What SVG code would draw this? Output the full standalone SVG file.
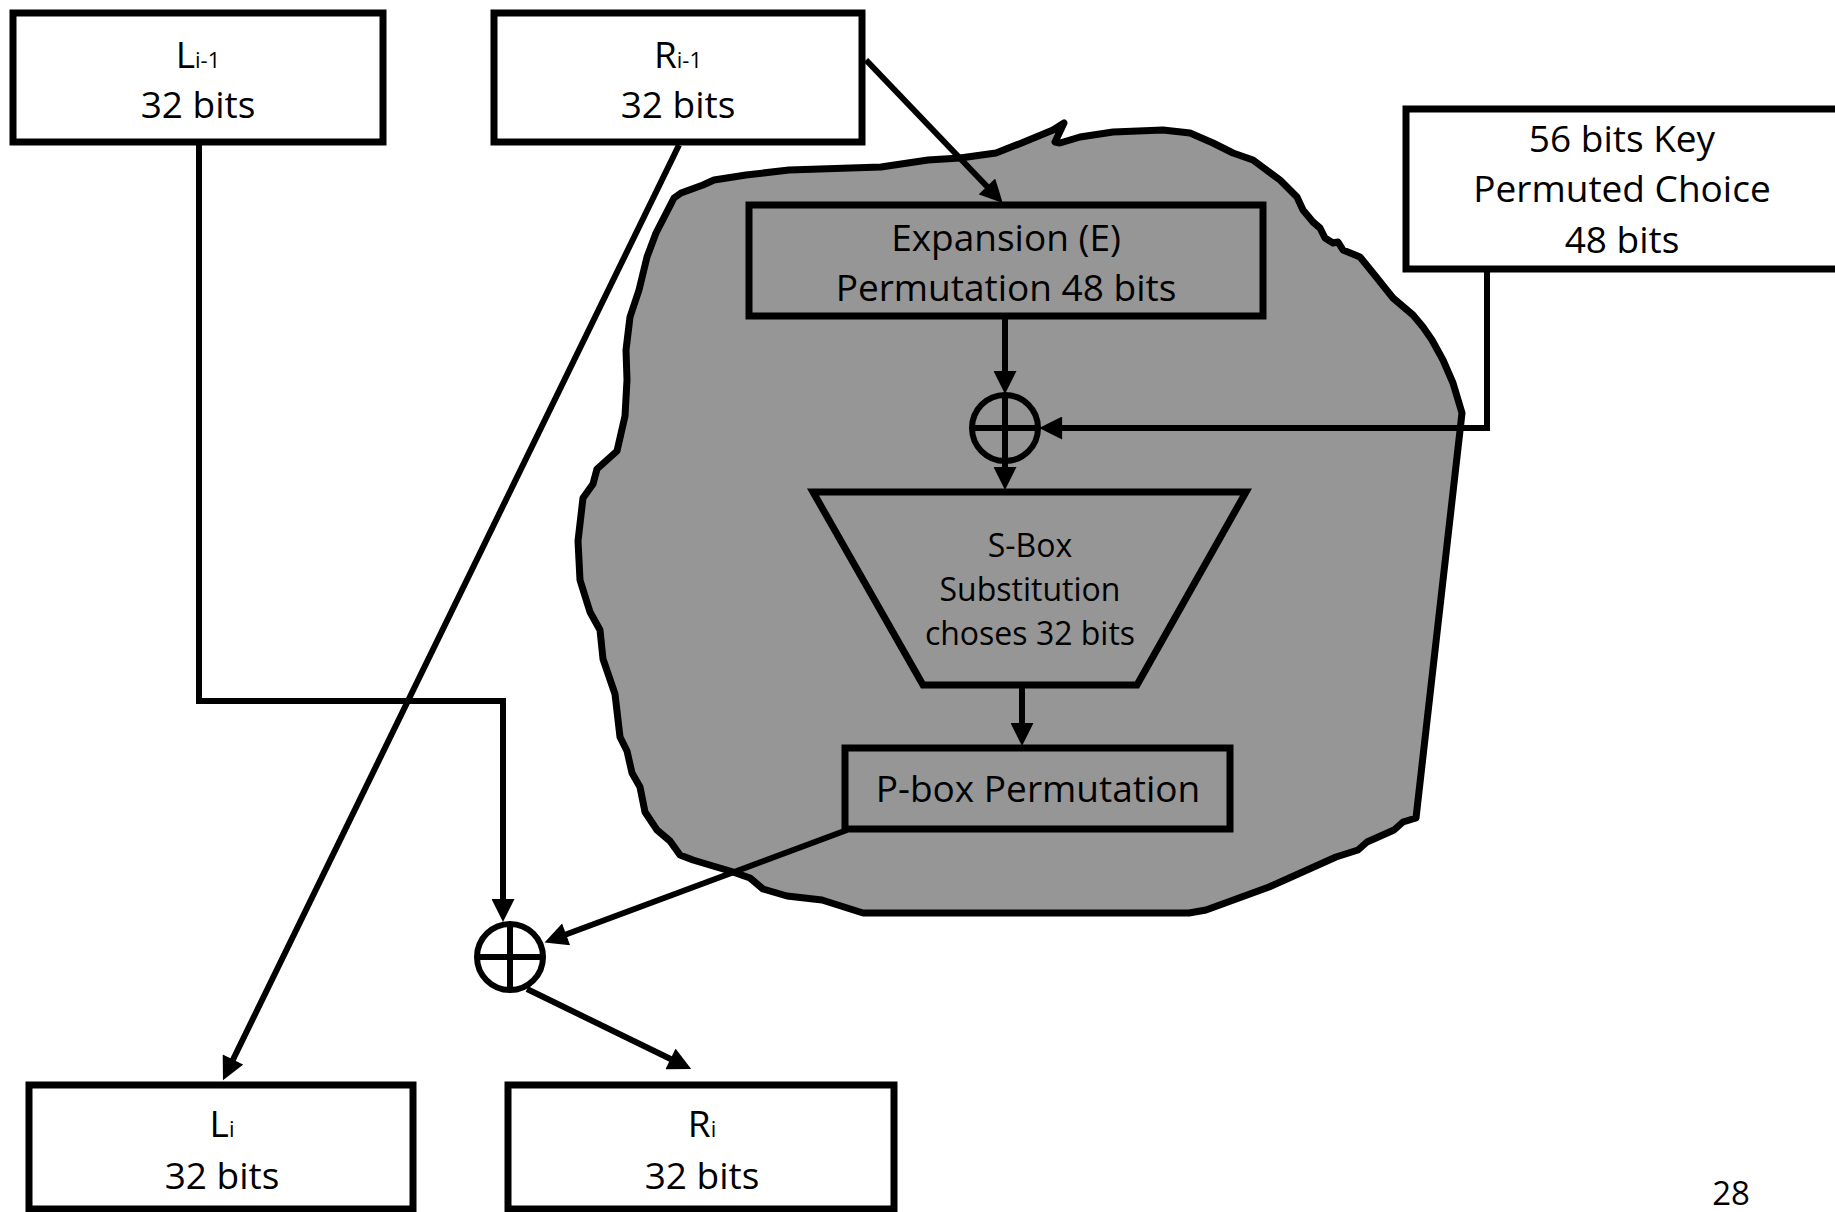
<svg xmlns="http://www.w3.org/2000/svg" width="1835" height="1212" viewBox="0 0 1835 1212">
<style>
text{font-family:"Open Sans","Noto Sans","Liberation Sans",sans-serif;fill:#000;text-anchor:middle}
.t{font-size:37px}
.s{font-size:32px}
.sub{font-size:22px}
.box{fill:#fff;stroke:#000;stroke-width:7}
.ibox{fill:none;stroke:#000;stroke-width:7}
.conn{fill:none;stroke:#000;stroke-width:6;stroke-linejoin:miter}
.blob{fill:#969696;stroke:#000;stroke-width:7;stroke-linejoin:round}
.xor{fill:none;stroke:#000;stroke-width:6}
</style>
<defs>
<marker id="arr" viewBox="0 0 10 10" refX="7" refY="5" markerWidth="24" markerHeight="23" markerUnits="userSpaceOnUse" orient="auto">
<path d="M0,0 L10,5 L0,10 z" fill="#000"/>
</marker>
</defs>

<g id="blob">
<path class="blob" d="M681,193 L703,185 L714,180 L746,175 L789,170 L881,167 L928,160 L960,158 L996,153 L1024,142 L1053,130 L1064,123 L1055,142 L1060,143 L1080,137 L1113,132 L1163,130 L1190,133 L1213,143 L1233,153 L1253,160 L1280,180 L1297,197 L1303,210 L1313,222 L1320,228 L1325,238 L1333,243 L1338,242 L1343,250 L1360,257 L1373,273 L1393,298 L1413,315 L1423,327 L1432,340 L1443,360 L1453,383 L1462,413 L1416,818 L1403,822 L1394,830 L1367,842 L1358,850 L1336,857 L1269,887 L1206,910 L1189,913 L863,913 L822,900 L787,896 L763,889 L750,878 L730,871 L713,866 L693,860 L680,855 L670,841 L657,830 L645,812 L640,787 L632,773 L627,751 L620,737 L615,694 L603,659 L600,630 L590,612 L580,580 L578,541 L583,498 L593,484 L597,469 L617,451 L625,416 L627,380 L626,350 L630,317 L639,290 L647,257 L656,233 L674,198 Z"/>
</g>

<g id="node-Li-1">
<rect class="box" x="13" y="13" width="370" height="129"/>
<text class="t" x="198" y="68">L<tspan class="sub">i-1</tspan></text>
<text class="t" x="198" y="118">32 bits</text>
</g>

<g id="node-Ri-1">
<rect class="box" x="494" y="13" width="368" height="129"/>
<text class="t" x="678" y="68">R<tspan class="sub">i-1</tspan></text>
<text class="t" x="678" y="118">32 bits</text>
</g>

<g id="node-key">
<rect class="box" x="1406" y="109" width="436" height="160"/>
<text class="t" x="1622" y="152">56 bits Key</text>
<text class="t" x="1622" y="202">Permuted Choice</text>
<text class="t" x="1622" y="253">48 bits</text>
</g>

<g id="node-expansion">
<rect class="ibox" x="749" y="205" width="514" height="111"/>
<text class="t" x="1006" y="251">Expansion (E)</text>
<text class="t" x="1006" y="301">Permutation 48 bits</text>
</g>

<g id="node-xor1">
<circle class="xor" cx="1005" cy="428" r="33"/>
<line class="xor" x1="1005" y1="395" x2="1005" y2="461"/>
<line class="xor" x1="972" y1="428" x2="1038" y2="428"/>
</g>

<g id="node-sbox">
<polygon class="ibox" points="813,492 1246,492 1137,685 923,685"/>
<text class="s" x="1030" y="557">S-Box</text>
<text class="s" x="1030" y="601">Substitution</text>
<text class="s" x="1030" y="645">choses 32 bits</text>
</g>

<g id="node-pbox">
<rect class="ibox" x="845" y="748" width="385" height="81"/>
<text class="t" x="1038" y="802">P-box Permutation</text>
</g>

<g id="node-xor2">
<circle class="xor" cx="510" cy="957" r="33"/>
<line class="xor" x1="510" y1="924" x2="510" y2="990"/>
<line class="xor" x1="477" y1="957" x2="543" y2="957"/>
</g>

<g id="node-Li">
<rect class="box" x="29" y="1085" width="384" height="124"/>
<text class="t" x="222" y="1137">L<tspan class="sub">i</tspan></text>
<text class="t" x="222" y="1189">32 bits</text>
</g>

<g id="node-Ri">
<rect class="box" x="508" y="1085" width="386" height="124"/>
<text class="t" x="702" y="1137">R<tspan class="sub">i</tspan></text>
<text class="t" x="702" y="1189">32 bits</text>
</g>

<g id="connectors">
<path class="conn" d="M199,142 V701 H503 V915" marker-end="url(#arr)"/>
<path class="conn" d="M679,145 L226,1074" marker-end="url(#arr)"/>
<path class="conn" d="M866,60 L998,198" marker-end="url(#arr)"/>
<path class="conn" d="M1005,319 V387" marker-end="url(#arr)"/>
<path class="conn" d="M1005,461 V483" marker-end="url(#arr)"/>
<path class="conn" d="M1487,269 V428 H1046" marker-end="url(#arr)"/>
<path class="conn" d="M1022,688 V739" marker-end="url(#arr)"/>
<path class="conn" d="M847,830 L551,940" marker-end="url(#arr)"/>
<path class="conn" d="M527,989 L685,1066" marker-end="url(#arr)"/>
</g>

<text x="1731" y="1205" style="font-size:33px">28</text>
</svg>
